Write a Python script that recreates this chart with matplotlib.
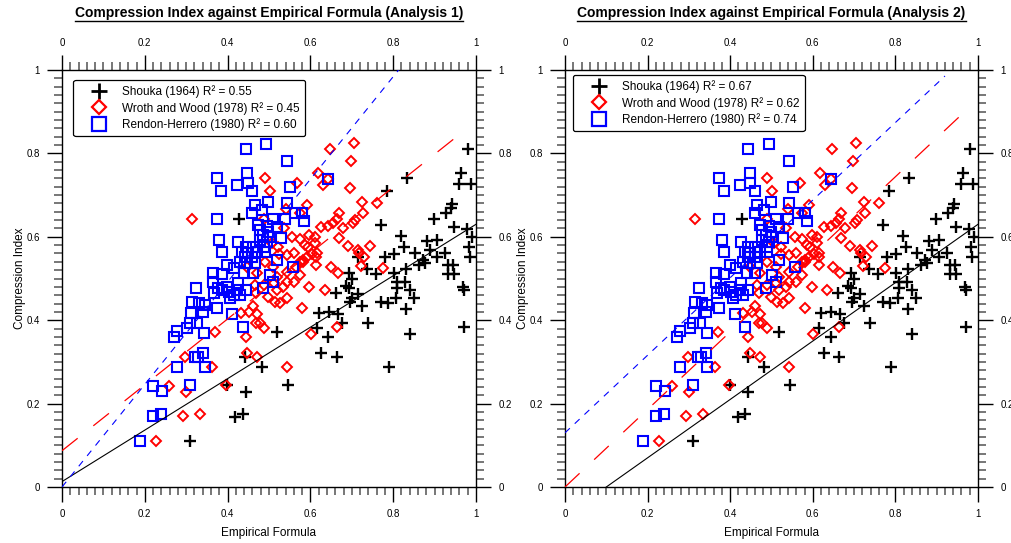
import numpy as np
import matplotlib
matplotlib.use("Agg")
import matplotlib.pyplot as plt
from matplotlib.lines import Line2D
from matplotlib.ticker import MultipleLocator, FuncFormatter

plt.rcParams['font.family'] = ['Liberation Sans', 'DejaVu Sans']

# Shouka (1964)
shouka_x = [0.981, 0.833, 0.785, 0.964, 0.959, 0.988, 0.942, 0.939, 0.928, 0.899,
            0.771, 0.947, 0.978, 0.990, 0.819, 0.882, 0.906, 0.826, 0.983, 0.889,
            0.853, 0.906, 0.925, 0.802, 0.780, 0.986, 0.872, 0.877, 0.862, 0.932,
            0.945, 0.737, 0.758, 0.802, 0.831, 0.932, 0.947, 0.693, 0.715, 0.700,
            0.809, 0.829, 0.969, 0.686,
            0.662, 0.693, 0.715, 0.696, 0.700, 0.725, 0.771, 0.787, 0.807, 0.809,
            0.841, 0.850, 0.831, 0.971, 0.971, 0.621, 0.645, 0.667, 0.676, 0.616,
            0.739, 0.643, 0.841, 0.626, 0.664, 0.790,
            0.519, 0.442, 0.483, 0.546, 0.399, 0.444, 0.418, 0.437, 0.309, 0.428]
shouka_y = [0.811, 0.741, 0.710, 0.753, 0.727, 0.727, 0.679, 0.669, 0.657, 0.643,
            0.628, 0.624, 0.619, 0.600, 0.602, 0.590, 0.592, 0.576, 0.576, 0.568,
            0.561, 0.552, 0.561, 0.559, 0.552, 0.552, 0.544, 0.537, 0.532, 0.532,
            0.532, 0.523, 0.511, 0.513, 0.523, 0.511, 0.511, 0.513, 0.552, 0.499,
            0.492, 0.492, 0.480, 0.482,
            0.465, 0.477, 0.463, 0.444, 0.453, 0.434, 0.444, 0.441, 0.453, 0.477,
            0.472, 0.453, 0.427, 0.472, 0.384, 0.417, 0.420, 0.415, 0.393, 0.381,
            0.393, 0.360, 0.367, 0.321, 0.312, 0.288,
            0.372, 0.312, 0.288, 0.245, 0.245, 0.228, 0.168, 0.175, 0.110, 0.643]

# Wroth and Wood (1978)
wroth_x = [0.705, 0.647, 0.698, 0.618, 0.643, 0.630, 0.696, 0.725, 0.761, 0.592,
           0.669, 0.727, 0.664, 0.655, 0.708, 0.703, 0.626, 0.643, 0.679, 0.575,
           0.597, 0.611, 0.669, 0.575, 0.691, 0.744, 0.611, 0.594, 0.715, 0.717,
           0.729, 0.616, 0.604, 0.592, 0.575, 0.614, 0.614, 0.582, 0.722, 0.650,
           0.775, 0.667, 0.597, 0.635, 0.580, 0.601, 0.664,
           0.490, 0.568, 0.502, 0.314, 0.541, 0.488, 0.536, 0.556, 0.587, 0.522,
           0.507, 0.524, 0.543, 0.560, 0.582, 0.490, 0.510, 0.543, 0.565, 0.447,
           0.471, 0.519, 0.575, 0.488, 0.466, 0.534,
           0.512, 0.543, 0.560, 0.469, 0.498, 0.519, 0.514, 0.527, 0.543, 0.461,
           0.452, 0.471, 0.432, 0.469, 0.478, 0.488, 0.370, 0.444, 0.447, 0.471,
           0.297, 0.362, 0.543, 0.258, 0.300, 0.396, 0.292, 0.333, 0.227]
wroth_y = [0.825, 0.811, 0.782, 0.753, 0.739, 0.724, 0.717, 0.683, 0.681, 0.676,
           0.657, 0.657, 0.643, 0.633, 0.640, 0.633, 0.624, 0.626, 0.621, 0.657,
           0.604, 0.600, 0.597, 0.595, 0.578, 0.578, 0.585, 0.576, 0.568, 0.561,
           0.552, 0.561, 0.559, 0.552, 0.540, 0.552, 0.532, 0.540, 0.530, 0.528,
           0.525, 0.513, 0.480, 0.472, 0.429, 0.367, 0.384,
           0.741, 0.729, 0.710, 0.643, 0.667, 0.643, 0.621, 0.600, 0.580, 0.576,
           0.585, 0.559, 0.556, 0.561, 0.544, 0.540, 0.528, 0.516, 0.528, 0.528,
           0.513, 0.504, 0.508, 0.484, 0.484, 0.480,
           0.489, 0.492, 0.492, 0.465, 0.456, 0.472, 0.444, 0.441, 0.453, 0.434,
           0.420, 0.415, 0.417, 0.393, 0.393, 0.381, 0.372, 0.360, 0.321, 0.312,
           0.312, 0.288, 0.288, 0.242, 0.228, 0.245, 0.170, 0.175, 0.110]

# Rendon-Herrero (1980)
rendon_x = [0.493, 0.444, 0.543, 0.447, 0.374, 0.423, 0.449, 0.384, 0.459, 0.551,
            0.498, 0.466, 0.543, 0.483, 0.459, 0.563, 0.580, 0.374, 0.510, 0.539,
            0.585, 0.473, 0.495, 0.519, 0.478, 0.498, 0.486, 0.502, 0.529, 0.379,
            0.425, 0.478, 0.495, 0.444, 0.461, 0.488, 0.386, 0.435, 0.449, 0.471,
            0.490, 0.442, 0.459, 0.519, 0.399, 0.430, 0.447, 0.466, 0.558, 0.415,
            0.365, 0.386, 0.440, 0.461, 0.502, 0.365, 0.425, 0.510, 0.324, 0.377,
            0.399, 0.643, 0.386, 0.403, 0.423, 0.444, 0.486, 0.367, 0.314,
            0.331, 0.345, 0.341, 0.374, 0.406, 0.415, 0.430, 0.411, 0.312, 0.309,
            0.326, 0.302, 0.278, 0.271, 0.343, 0.437, 0.341, 0.321, 0.329, 0.345,
            0.278, 0.220, 0.242, 0.309, 0.220, 0.239, 0.188]
rendon_y = [0.823, 0.811, 0.782, 0.753, 0.741, 0.724, 0.729, 0.710, 0.710, 0.719,
            0.683, 0.676, 0.681, 0.664, 0.657, 0.657, 0.657, 0.643, 0.643, 0.643,
            0.638, 0.628, 0.626, 0.624, 0.616, 0.612, 0.604, 0.600, 0.597, 0.592,
            0.588, 0.592, 0.588, 0.576, 0.576, 0.576, 0.564, 0.564, 0.561, 0.564,
            0.564, 0.552, 0.552, 0.544, 0.532, 0.540, 0.537, 0.537, 0.528, 0.525,
            0.513, 0.511, 0.513, 0.513, 0.508, 0.492, 0.489, 0.492, 0.477, 0.477,
            0.480, 0.739, 0.472, 0.468, 0.472, 0.472, 0.477, 0.465, 0.444,
            0.441, 0.436, 0.420, 0.429, 0.453, 0.460, 0.460, 0.415, 0.417, 0.393,
            0.393, 0.381, 0.374, 0.360, 0.369, 0.384, 0.321, 0.312, 0.312, 0.288,
            0.288, 0.242, 0.230, 0.245, 0.170, 0.175, 0.110]

titles = ['Compression Index against Empirical Formula (Analysis 1)',
          'Compression Index against Empirical Formula (Analysis 2)']
r2_values = [[0.55, 0.45, 0.60], [0.67, 0.62, 0.74]]
series_names = ['Shouka (1964)', 'Wroth and Wood (1978)', 'Rendon-Herrero (1980)']

# fitted lines: intercept, slope, x end (Shouka, Wroth, Rendon)
fit_intercepts = [[0.013, 0.087, 0.0], [-0.07, 0.0, 0.13]]
fit_slopes = [[0.617, 0.79, 1.23], [0.70, 0.93, 0.93]]
fit_xend = [[1.0, 0.97, 1.0], [1.0, 0.98, 0.92]]

W, H = 1012, 543
fig = plt.figure(figsize=(W / 100, H / 100), dpi=100)

axes_left_px = [62, 565]
axes_width_px = [414, 413]
ax_bottom = (H - 487) / H
ax_height = 417 / H
legend_anchor = [(0.027, 0.976), (0.019, 0.988)]

line_styles = [dict(color='black', lw=0.8, ls='-'),
               dict(color='red', lw=0.9, dashes=(16, 16)),
               dict(color='blue', lw=0.8, dashes=(6, 6))]

fmt = FuncFormatter(lambda v, p: f'{v:g}')

title_texts = []
for i in range(2):
    ax = fig.add_axes([axes_left_px[i] / W, ax_bottom, axes_width_px[i] / W, ax_height])
    ax.set_xlim(0, 1)
    ax.set_ylim(0, 1)

    ax.plot(shouka_x, shouka_y, ls='none', marker='+', ms=8.5, mew=1.7, color='black', zorder=3)
    ax.plot(wroth_x, wroth_y, ls='none', marker='D', ms=5, mew=1.4, mfc='none', mec='red', zorder=3)
    ax.plot(rendon_x, rendon_y, ls='none', marker='s', ms=7, mew=1.5, mfc='none', mec='blue', zorder=3)

    for k in range(3):
        xs = np.array([0.0, fit_xend[i][k]])
        ax.plot(xs, fit_intercepts[i][k] + fit_slopes[i][k] * xs, zorder=4, **line_styles[k])

    for axis in (ax.xaxis, ax.yaxis):
        axis.set_major_locator(MultipleLocator(0.2))
        axis.set_minor_locator(MultipleLocator(0.02))
        axis.set_major_formatter(fmt)
    ax.tick_params(which='both', direction='out', top=True, right=True,
                   labeltop=True, labelright=True, labelsize=7, pad=5)
    ax.tick_params(which='major', length=11, width=1.0, color='black')
    ax.tick_params(which='minor', length=5.5, width=1.4, color='#777777')
    for sp in ax.spines.values():
        sp.set_linewidth(1.0)

    ax.set_xlabel('Empirical Formula', fontsize=8.5)
    ax.set_ylabel('Compression Index', fontsize=8.5)
    ax.xaxis.set_label_coords(0.5, -0.096)
    ax.yaxis.set_label_coords(-0.086, 0.5)

    handles = [Line2D([], [], ls='none', marker='+', ms=12, mew=2.0, color='black'),
               Line2D([], [], ls='none', marker='D', ms=7, mew=1.6, mfc='none', mec='red'),
               Line2D([], [], ls='none', marker='s', ms=10, mew=1.6, mfc='none', mec='blue')]
    labels = [f'{n} R\u00b2 = {r:.2f}' for n, r in zip(series_names, r2_values[i])]
    leg = ax.legend(handles, labels, loc='upper left', bbox_to_anchor=legend_anchor[i],
                    fontsize=8.5, frameon=True, fancybox=True, framealpha=1,
                    edgecolor='black', handlelength=3.5, handletextpad=0.2,
                    labelspacing=0.3, borderpad=0.45, borderaxespad=0)
    leg.get_frame().set_linewidth(0.9)

    cx = (axes_left_px[i] + axes_width_px[i] / 2) / W
    t = fig.text(cx, 1 - 13 / H, titles[i], ha='center', va='center',
                 fontsize=10, fontweight='bold')
    title_texts.append(t)

# underline the titles
fig.canvas.draw()
renderer = fig.canvas.get_renderer()
for t in title_texts:
    bb = t.get_window_extent(renderer)
    y = (bb.y0 - 1) / H
    fig.add_artist(Line2D([bb.x0 / W, bb.x1 / W], [y, y], color='black', lw=1.0,
                          transform=fig.transFigure))

fig.savefig('out.png', dpi=100)
